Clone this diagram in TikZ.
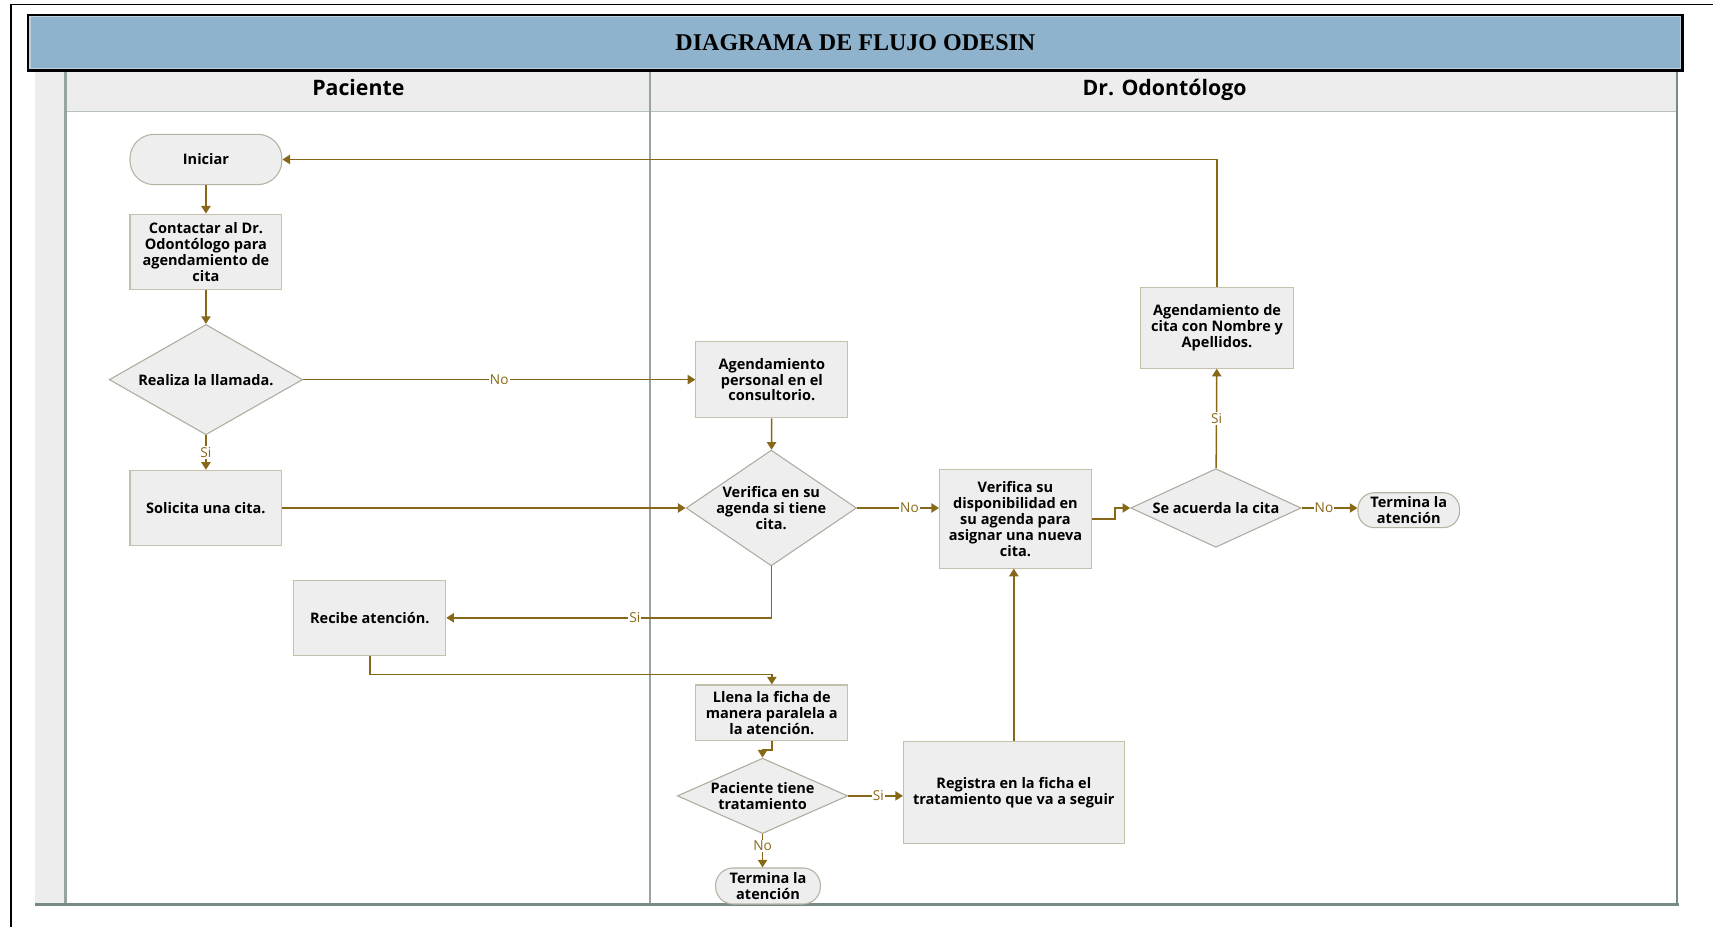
\documentclass[tikz,border=0pt]{standalone}
\usepackage{fontspec}
\setmainfont{Open Sans}
\newfontfamily\titlefont{Liberation Serif}
\usetikzlibrary{shapes.geometric,arrows.meta,calc}
\definecolor{titlefill}{RGB}{143,179,204}
\definecolor{headfill}{RGB}{237,237,237}
\definecolor{poolline}{RGB}{120,138,132}
\definecolor{laneline}{RGB}{150,165,160}
\definecolor{nodefill}{RGB}{238,238,238}
\definecolor{nodeline}{RGB}{196,192,172}
\definecolor{flow}{RGB}{135,104,24}
\tikzset{
  nodetext/.style={font=\bfseries\fontsize{13.3}{14.5}\selectfont, align=center, text=black},
  proc/.style={rectangle, draw=nodeline, fill=nodefill, line width=1pt, nodetext, inner sep=1pt},
  termnode/.style={rectangle, draw=nodeline!80!gray, fill=nodefill, line width=1pt, nodetext, inner sep=0pt},
  dec/.style={diamond, draw=nodeline!70!gray, fill=nodefill, line width=1pt, inner sep=0pt},
  dtext/.style={nodetext, inner sep=0pt},
  flowline/.style={draw=flow, line width=1.4pt, -{Triangle[width=8.5pt,length=7pt]}},
  lbl/.style={font=\fontsize{12.5}{13}\selectfont, text=flow, fill=white, inner sep=1pt},
  lanehead/.style={font=\bfseries\fontsize{19.5}{21}\selectfont, text=black, anchor=base}
}
\begin{document}
\begin{tikzpicture}[x=1pt,y=-1pt]
\useasboundingbox (0,0) rectangle (1568,848.5);
% outer frame
\draw[black, line width=1.5pt] (10,848.5) -- (10,4) -- (1568,4);
% pool
\fill[headfill] (32,64) rectangle (60,828);
\fill[headfill] (60,66) rectangle (1535,102);
\draw[laneline!70!white, line width=1.5pt] (60,102) -- (1535,102);
\draw[laneline, line width=2pt] (60,64) -- (60,828);
\draw[laneline, line width=1pt] (595,64) -- (595,828);
\draw[poolline, line width=2pt] (1535,64) -- (1535,828);
\draw[poolline, line width=2.5pt] (32,828) -- (1537,828);
\node[lanehead] (hpac) at (328,87) {Paciente};
\node[lanehead] (hodo) at (1066,87) {Dr. Odontólogo};
% title bar
\node[rectangle, draw=black, line width=3pt, fill=titlefill, minimum width=1514pt, minimum height=50pt, inner sep=0pt,
      font=\titlefont\bfseries\fontsize{22}{24}\selectfont] (title) at (783,39) {DIAGRAMA DE FLUJO ODESIN};
\draw[titlefill!60!white, line width=1pt] ($(title.north west)+(3,3)$) rectangle ($(title.south east)+(-3,-3)$);

% nodes
\node[termnode, rounded corners=22pt, minimum width=139pt, minimum height=46pt] (ini) at (188.5,146) {Iniciar};
\node[proc, minimum width=139pt, minimum height=69pt] (con) at (188.5,230.5) {Contactar al Dr.\\Odontólogo para\\agendamiento de\\cita};
\node[dec, minimum width=177pt, minimum height=101pt, label={[dtext]center:Realiza la llamada.}] (rea) at (188.5,347.5) {};
\node[proc, minimum width=139pt, minimum height=69pt] (sol) at (188.5,465) {Solicita una cita.};
\node[proc, minimum width=139pt, minimum height=69pt] (rec) at (338.5,565.5) {Recibe atención.};
\node[proc, minimum width=139pt, minimum height=70pt] (agp) at (706.5,347.5) {Agendamiento\\personal en el\\consultorio.};
\node[dec, minimum width=156pt, minimum height=106pt, label={[dtext]center:{Verifica en su\\agenda si tiene\\cita.}}] (ver) at (706,465) {};
\node[proc, minimum width=139pt, minimum height=90pt] (vdi) at (929.5,475) {Verifica su\\disponibilidad en\\su agenda para\\asignar una nueva\\cita.};
\node[dec, minimum width=156pt, minimum height=72pt, label={[dtext]center:Se acuerda la cita}] (acu) at (1113,465) {};
\node[termnode, rounded corners=15pt, minimum width=93pt, minimum height=32pt] (ter2) at (1289.5,467) {Termina la\\atención};
\node[proc, minimum width=140pt, minimum height=74pt] (agc) at (1114,300) {Agendamiento de\\cita con Nombre y\\Apellidos.};
\node[proc, minimum width=139pt, minimum height=51pt] (lle) at (706.5,652.5) {Llena la ficha de\\manera paralela a\\la atención.};
\node[dec, minimum width=156pt, minimum height=69pt, label={[dtext]center:{Paciente tiene\\tratamiento}}] (pac) at (698,728.5) {};
\node[proc, minimum width=202pt, minimum height=93pt] (reg) at (928,725.5) {Registra en la ficha el\\tratamiento que va a seguir};
\node[termnode, rounded corners=16pt, minimum width=96pt, minimum height=33pt] (ter1) at (703,811) {Termina la\\atención};

% connectors
\draw[flowline] (ini) -- (con);
\draw[flowline] (con) -- (rea);
\draw[flowline] (rea) -- node[lbl]{Si} (sol);
\draw[flowline] (rea) -- node[lbl]{No} (agp);
\draw[flowline] (sol) -- (ver);
\draw[flowline] (agp) -- (ver);
\draw[flowline] (ver.south) |- node[lbl, pos=0.71]{Si} (rec.east);
\draw[flowline] (ver.east) -- node[lbl, pos=0.64]{No} (ver.east -| vdi.west);
\draw[flowline] (vdi.east) -- ++(21,0) |- (acu.west);
\draw[flowline] (acu) -- node[lbl]{Si} (agc);
\draw[flowline] (acu.east) -- node[lbl, pos=0.4]{No} (acu.east -| ter2.west);
\draw[flowline] (agc.north) |- (ini.east);
\draw[flowline] (rec.south) -- ++(0,17) -| (lle.north);
\draw[flowline] (lle.south) -- ++(0,8) -| (pac.north);
\draw[flowline] (pac.east) -- node[lbl, pos=0.55]{Si} (pac.east -| reg.west);
\draw[flowline] (pac.south) -- node[lbl, pos=0.35]{No} (pac.south |- ter1.north);
\draw[flowline] (reg.north) -- (reg.north |- vdi.south);
\end{tikzpicture}
\end{document}
